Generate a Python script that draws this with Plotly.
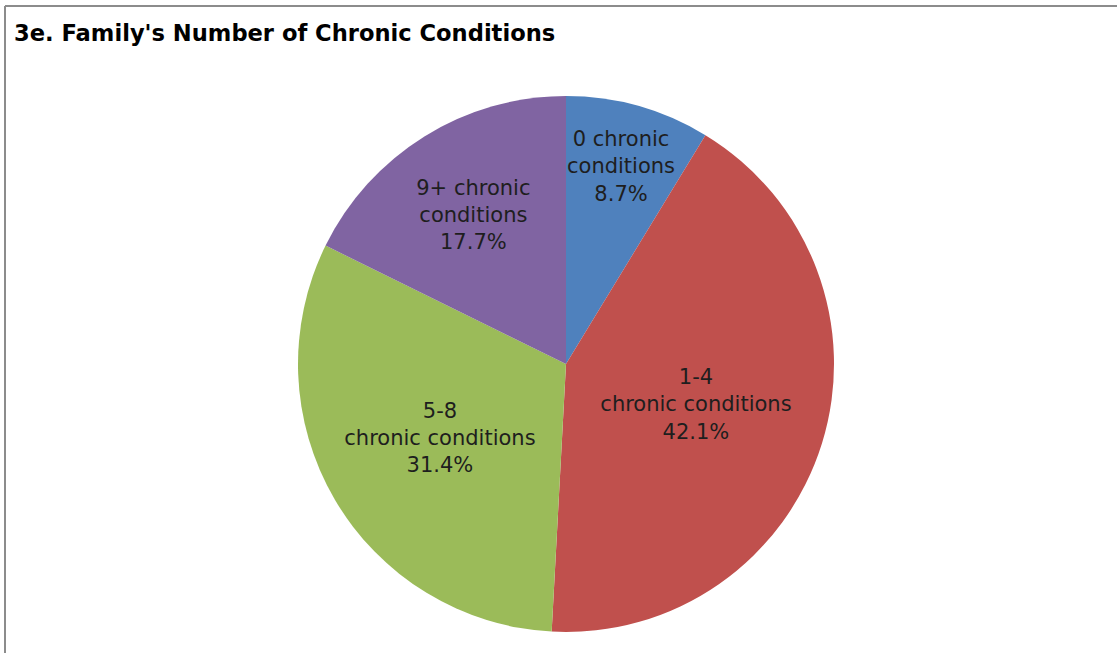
import math
import plotly.graph_objects as go

categories = ["0 chronic conditions", "1-4 chronic conditions", "5-8 chronic conditions", "9+ chronic conditions"]
shares = [8.7, 42.1, 31.4, 17.7]
slice_text = ["0 chronic<br>conditions", "1-4<br>chronic conditions", "5-8<br>chronic conditions", "9+ chronic<br>conditions"]
colors = ["#4F81BD", "#C0504D", "#9BBB59", "#8064A2"]

W, H = 1117, 653
cx, cy, r = 566, 364, 268
FONT = "DejaVu Sans, sans-serif"
label_font = {"family": FONT, "size": 21, "color": "#1e1e1e"}

# the narrow first slice would get its label shrunk by plotly, so it is drawn as an annotation
text_pos = ["none", "inside", "inside", "inside"]

fig = go.Figure(go.Pie(
    labels=categories, values=shares, sort=False, direction="clockwise", rotation=0,
    text=slice_text, customdata=shares,
    texttemplate="%{text}<br>%{customdata:.1f}%", textposition=text_pos,
    insidetextorientation="horizontal",
    textfont=label_font,
    marker={"colors": colors, "line": {"width": 0}},
    domain={"x": [(cx - r) / W, (cx + r) / W], "y": [(H - cy - r) / H, (H - cy + r) / H]},
    showlegend=False, hoverinfo="label+text",
))

# label for the first slice: on the slice bisector, ~3/4 of the radius out
mid = shares[0] / 2 / sum(shares) * 2 * math.pi
rr = 0.765 * r
fig.add_annotation(x=(cx + rr * math.sin(mid)) / W, y=(H - cy + rr * math.cos(mid)) / H,
                   xref="paper", yref="paper", xanchor="center", yanchor="middle",
                   text=f"{slice_text[0]}<br>{shares[0]:.1f}%", showarrow=False, font=label_font)

fig.add_annotation(x=12 / W, y=1 - 33 / H, xref="paper", yref="paper", xanchor="left", yanchor="middle",
                   text="<b>3e. Family's Number of Chronic Conditions</b>", showarrow=False,
                   font={"family": FONT, "size": 22.6, "color": "#000000"})

# chart frame (top and left edges visible in crop)
fig.add_shape(type="line", xref="paper", yref="paper", x0=5 / W, x1=1, y0=1 - 6 / H, y1=1 - 6 / H,
              line={"color": "#8c8c8c", "width": 2})
fig.add_shape(type="line", xref="paper", yref="paper", x0=5 / W, x1=5 / W, y0=0, y1=1 - 6 / H,
              line={"color": "#8c8c8c", "width": 2})

fig.update_layout(width=W, height=H, margin={"t": 0, "b": 0, "l": 0, "r": 0},
                  paper_bgcolor="white", plot_bgcolor="white")
# drop the default 8px body margin so the figure sits flush with the window
fig.write_html("out.html", config={"displayModeBar": False},
               post_script="document.body.style.margin='0';")
